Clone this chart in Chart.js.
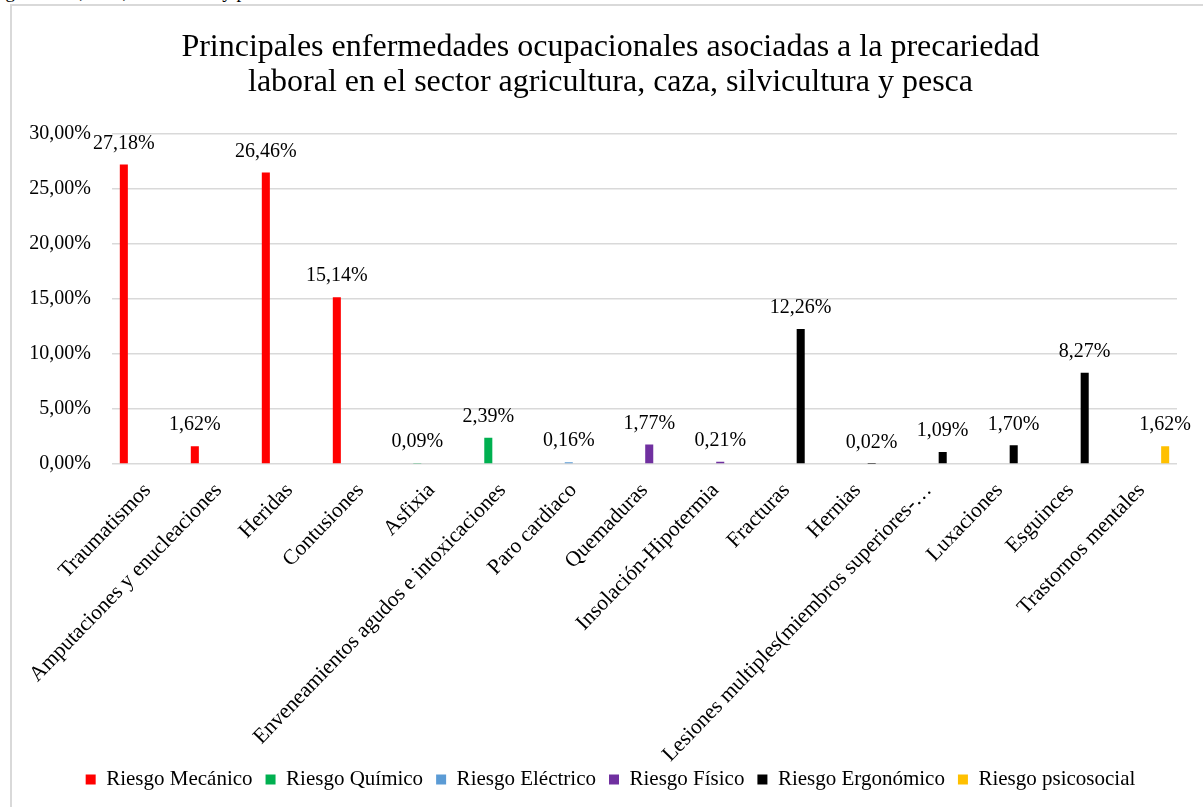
<!DOCTYPE html>
<html lang="es">
<head>
    <meta charset="UTF-8">
    <title>Enfermedades ocupacionales - sector agricultura</title>
    <script src="https://cdn.jsdelivr.net/npm/chart.js"></script>
    <style>
        body { margin: 0; background: #fff; overflow: hidden; }
        #caption {
            position: absolute; left: -3px; top: -19px;
            font-family: 'Liberation Serif', serif; font-size: 19px; color: #000;
            white-space: nowrap;
        }
        #box {
            position: absolute; left: 10px; top: 4px; width: 1200px; height: 810px;
            border: 2px solid #d9d9d9; box-sizing: border-box;
        }
        #wrap {
            position: absolute; left: 12px; top: 6px; width: 1191px; height: 801px;
        }
    </style>
</head>
<body>
    <div id="caption">agricultura, caza, silvicultura y pesca.</div>
    <div id="box"></div>
    <div id="wrap"><canvas id="chart"></canvas></div>
    <script>
        const categories = [
            'Traumatismos',
            'Amputaciones y enucleaciones',
            'Heridas',
            'Contusiones',
            'Asfixia',
            'Enveneamientos agudos e intoxicaciones',
            'Paro cardiaco',
            'Quemaduras',
            'Insolación-Hipotermia',
            'Fracturas',
            'Hernias',
            'Lesiones multiples(miembros superiores-…',
            'Luxaciones',
            'Esguinces',
            'Trastornos mentales'
        ];

        // one value per category, null where the series has no bar
        const mecanico    = [27.18, 1.62, 26.46, 15.14, null, null, null, null, null, null, null, null, null, null, null];
        const quimico     = [null, null, null, null, 0.09, 2.39, null, null, null, null, null, null, null, null, null];
        const electrico   = [null, null, null, null, null, null, 0.16, null, null, null, null, null, null, null, null];
        const fisico      = [null, null, null, null, null, null, null, 1.77, 0.21, null, null, null, null, null, null];
        const ergonomico  = [null, null, null, null, null, null, null, null, null, 12.26, 0.02, 1.09, 1.70, 8.27, null];
        const psicosocial = [null, null, null, null, null, null, null, null, null, null, null, null, null, null, 1.62];

        const yTicks = [0, 5, 10, 15, 20, 25, 30];

        const serif = "'Liberation Serif', 'Times New Roman', serif";
        const fmt = v => v.toFixed(2).replace('.', ',') + '%';

        function series(label, data, color) {
            return {
                label: label,
                data: data,
                backgroundColor: color,
                borderWidth: 0,
                categoryPercentage: 0.8,
                barPercentage: 0.85
            };
        }

        // value labels above each bar
        const barLabels = {
            id: 'barLabels',
            afterDatasetsDraw(chart) {
                const ctx = chart.ctx;
                ctx.save();
                ctx.font = '20px ' + serif;
                ctx.fillStyle = '#000';
                ctx.textAlign = 'center';
                ctx.textBaseline = 'bottom';
                chart.data.datasets.forEach((ds, i) => {
                    const meta = chart.getDatasetMeta(i);
                    meta.data.forEach((bar, j) => {
                        const v = ds.data[j];
                        if (v === null) return;
                        ctx.fillText(fmt(v), bar.x, bar.y - 11);
                    });
                });
                ctx.restore();
            }
        };

        const padLeft = 32;

        // let tick labels spill outside their scale box (long rotated names, y labels in the padding)
        const noClip = scale => { scale._computeLabelArea = () => undefined; };

        const ctx = document.getElementById('chart').getContext('2d');
        new Chart(ctx, {
            type: 'bar',
            data: {
                labels: categories,
                datasets: [
                    series('Riesgo Mecánico', mecanico, '#ff0000'),
                    series('Riesgo Químico', quimico, '#00b050'),
                    series('Riesgo Eléctrico', electrico, '#5b9bd5'),
                    series('Riesgo Físico', fisico, '#7030a0'),
                    series('Riesgo Ergonómico', ergonomico, '#000000'),
                    series('Riesgo psicosocial', psicosocial, '#ffc000')
                ]
            },
            options: {
                responsive: true,
                maintainAspectRatio: false,
                animation: false,
                layout: { padding: { left: padLeft, right: 26, top: 0, bottom: 7 } },
                plugins: {
                    title: {
                        display: true,
                        text: ['Principales enfermedades ocupacionales asociadas a la precariedad',
                               'laboral en el sector agricultura, caza, silvicultura y pesca'],
                        font: { family: serif, size: 32, weight: 'normal', lineHeight: 1.1 },
                        color: '#000',
                        padding: { top: 24, bottom: 33 }
                    },
                    legend: {
                        position: 'bottom',
                        labels: {
                            font: { family: serif, size: 21 },
                            color: '#000',
                            boxWidth: 10,
                            boxHeight: 10,
                            padding: 13
                        }
                    },
                    tooltip: { enabled: false }
                },
                scales: {
                    x: {
                        grid: { display: false },
                        border: { display: false },
                        ticks: {
                            font: { family: serif, size: 21.5 },
                            color: '#000',
                            maxRotation: 46,
                            minRotation: 46,
                            autoSkip: false,
                            padding: 6
                        },
                        afterFit(scale) { scale.height = 292; noClip(scale); }
                    },
                    y: {
                        min: 0,
                        max: 30,
                        afterBuildTicks(scale) { scale.ticks = yTicks.map(v => ({ value: v })); },
                        grid: { color: '#d9d9d9', lineWidth: 1.5, drawTicks: false },
                        border: { display: false },
                        ticks: {
                            font: { family: serif, size: 20 },
                            color: '#000',
                            padding: 21,
                            callback: v => fmt(v)
                        },
                        afterFit(scale) { scale.width = 100 - padLeft; noClip(scale); }
                    }
                }
            },
            plugins: [barLabels]
        });
    </script>
</body>
</html>
